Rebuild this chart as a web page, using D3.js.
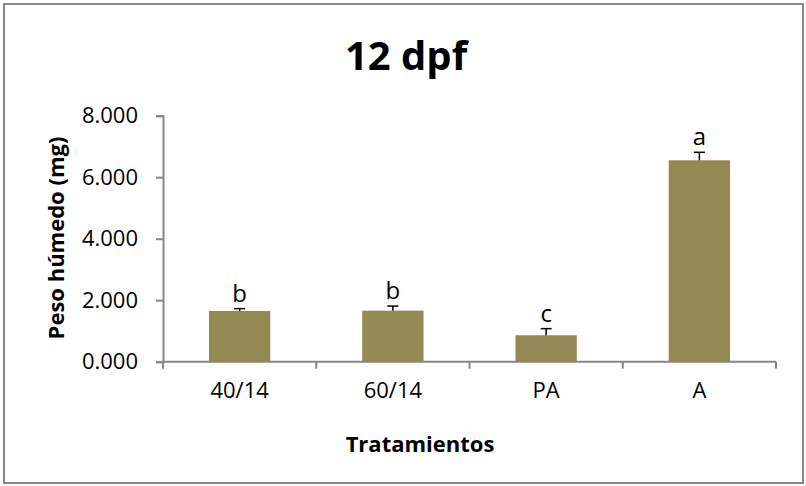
<!DOCTYPE html>
<html>
<head>
<meta charset="utf-8">
<script src="https://cdn.jsdelivr.net/npm/d3@7"></script>
<style>
html,body{margin:0;padding:0;background:#fff;}
svg{display:block;}
text{font-family:"Open Sans",sans-serif;}
</style>
</head>
<body>
<svg id="chart" width="806" height="486"></svg>
<script>
const categories = ["40/14", "60/14", "PA", "A"];
const values = [1650, 1660, 860, 6550];
const errors = [75, 150, 215, 260];
const letters = ["b", "b", "c", "a"];
const yTicks = [0, 2000, 4000, 6000, 8000];
const title = "12 dpf";
const xTitle = "Tratamientos";
const yTitle = "Peso húmedo (mg)";

(function () {
const svg = d3.select("#chart");
svg.append("rect").attr("x", 4).attr("y", 4).attr("width", 799).attr("height", 479)
  .attr("fill", "#fff").attr("stroke", "#888").attr("stroke-width", 2);

const pL = 163, pR = 776, pT = 115.7, pB = 361.7;
const x = d3.scaleBand().domain(categories).range([pL, pR]).padding(0);
const y = d3.scaleLinear().domain([0, 8000]).range([pB, pT]);
const fmt = v => d3.format(",.3f")(v / 1000).replace(",", "");

const axisColor = "#878787";
const yAxis = svg.append("g").attr("transform", `translate(${pL},0)`)
  .call(d3.axisLeft(y).tickValues(yTicks).tickSize(7).tickPadding(18).tickFormat(fmt));
const xAxis = svg.append("g").attr("transform", `translate(0,${pB})`)
  .call(d3.axisBottom(x).tickSize(7).tickPadding(14).tickSizeOuter(0));
xAxis.selectAll(".tick line").remove();
const bounds = categories.map(d => x(d)).concat([pR]);
xAxis.selectAll(".boundary").data(bounds).enter().append("line")
  .attr("class", "boundary")
  .attr("x1", d => d).attr("x2", d => d)
  .attr("y1", 0).attr("y2", 7);
[yAxis, xAxis].forEach(a => {
  a.selectAll("path").attr("stroke", axisColor).attr("stroke-width", 2);
  a.selectAll("line").attr("stroke", axisColor).attr("stroke-width", 2);
  a.selectAll("text").attr("fill", "#000").style("font-size", "22px").style("font-family", "'Open Sans', sans-serif");
});
xAxis.select(".domain").attr("d", `M${pL},0H${pR}`);

const bw = x.bandwidth() * 0.4;
const cx = d => x(d) + x.bandwidth() / 2;

svg.append("g").selectAll("rect").data(categories).enter().append("rect")
  .attr("x", d => cx(d) - bw / 2)
  .attr("y", (d, i) => y(values[i]))
  .attr("width", bw)
  .attr("height", (d, i) => pB - y(values[i]))
  .attr("fill", "#938953");

const eb = svg.append("g").attr("stroke", "#000").attr("stroke-width", 1.5);
categories.forEach((c, i) => {
  eb.append("line").attr("x1", cx(c)).attr("x2", cx(c))
    .attr("y1", y(values[i])).attr("y2", y(values[i] + errors[i]));
  eb.append("line").attr("x1", cx(c) - 5.5).attr("x2", cx(c) + 5.5)
    .attr("y1", y(values[i] + errors[i])).attr("y2", y(values[i] + errors[i]));
});

svg.append("g").selectAll("text").data(categories).enter().append("text")
  .attr("x", d => cx(d))
  .attr("y", (d, i) => y(values[i] + errors[i]) - 7)
  .attr("text-anchor", "middle")
  .style("font-size", "24px")
  .text((d, i) => letters[i]);

svg.append("text").attr("x", 406).attr("y", 70).attr("text-anchor", "middle")
  .style("font-size", "40px").style("font-weight", "bold").text(title);
svg.append("text").attr("x", 420).attr("y", 452).attr("text-anchor", "middle")
  .style("font-size", "22px").style("font-weight", "bold").text(xTitle);
svg.append("text").attr("transform", "translate(64,238) rotate(-90)").attr("text-anchor", "middle")
  .style("font-size", "22px").style("font-weight", "bold").text(yTitle);
})();
</script>
</body>
</html>
